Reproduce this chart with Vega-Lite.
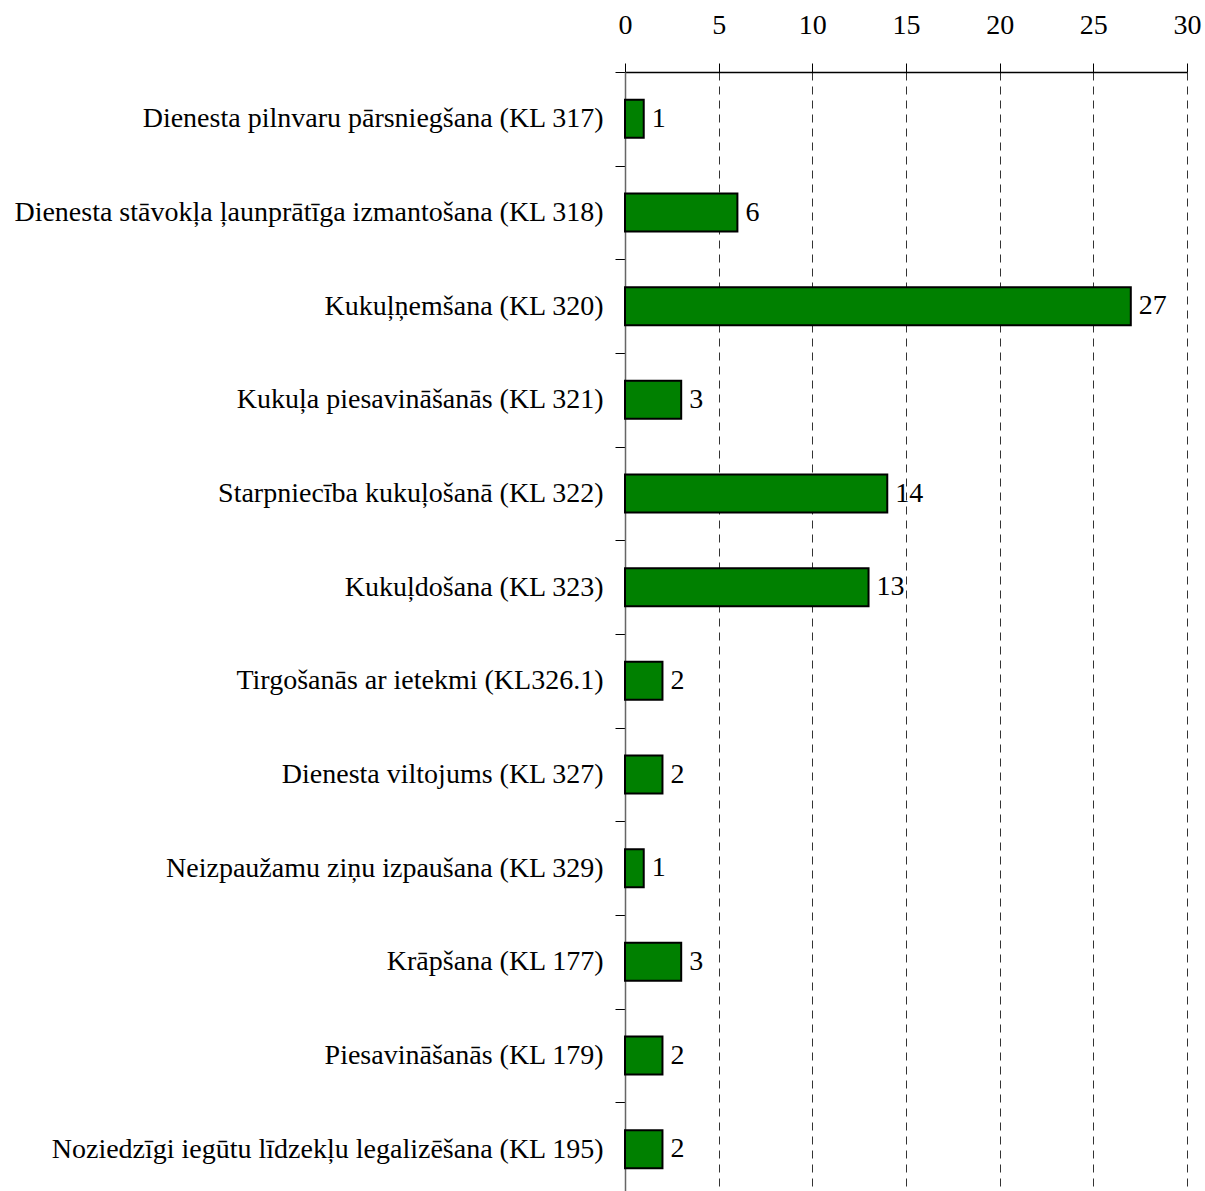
{
  "$schema": "https://vega.github.io/schema/vega-lite/v6.json",
  "width": 562,
  "height": 1124,
  "autosize": {"type": "none"},
  "padding": {"left": 625, "top": 72, "right": 18, "bottom": 0},
  "background": "white",
  "config": {"font": "Liberation Serif", "view": {"stroke": null}},
  "data": {
    "values": [
      {"category": "Dienesta pilnvaru pārsniegšana (KL 317)", "value": 1},
      {"category": "Dienesta stāvokļa ļaunprātīga izmantošana (KL 318)", "value": 6},
      {"category": "Kukuļņemšana (KL 320)", "value": 27},
      {"category": "Kukuļa piesavināšanās (KL 321)", "value": 3},
      {"category": "Starpniecība kukuļošanā (KL 322)", "value": 14},
      {"category": "Kukuļdošana (KL 323)", "value": 13},
      {"category": "Tirgošanās ar ietekmi (KL326.1)", "value": 2},
      {"category": "Dienesta viltojums (KL 327)", "value": 2},
      {"category": "Neizpaužamu ziņu izpaušana (KL 329)", "value": 1},
      {"category": "Krāpšana (KL 177)", "value": 3},
      {"category": "Piesavināšanās (KL 179)", "value": 2},
      {"category": "Noziedzīgi iegūtu līdzekļu legalizēšana (KL 195)", "value": 2}
    ]
  },
  "encoding": {
    "y": {
      "field": "category",
      "type": "nominal",
      "sort": null,
      "scale": {"paddingInner": 0, "paddingOuter": 0},
      "axis": {
        "title": null,
        "tickBand": "extent",
        "domainColor": "#666666",
        "domainWidth": 1.5,
        "tickColor": "#000000",
        "tickSize": 10,
        "labelFont": "Liberation Serif",
        "labelFontSize": 28,
        "labelColor": "#000000",
        "labelPadding": 12,
        "labelLimit": 0
      }
    }
  },
  "layer": [
    {
      "mark": {"type": "bar", "fill": "#008000", "stroke": "#000000", "strokeWidth": 2, "height": {"band": 0.406}},
      "encoding": {
        "x": {
          "field": "value",
          "type": "quantitative",
          "scale": {"domain": [0, 30], "nice": false},
          "axis": {
            "orient": "top",
            "title": null,
            "values": [0, 5, 10, 15, 20, 25, 30],
            "grid": true,
            "gridDash": [8, 6],
            "gridColor": "#333333",
            "gridWidth": 1,
            "domainColor": "#000000",
            "domainWidth": 1.5,
            "tickColor": "#000000",
            "tickSize": 9,
            "labelFont": "Liberation Serif",
            "labelFontSize": 28,
            "labelColor": "#000000",
            "labelPadding": 24,
            "labelFlush": false
          }
        }
      }
    },
    {
      "mark": {"type": "text", "align": "left", "baseline": "middle", "dx": 8, "fontSize": 28, "font": "Liberation Serif", "color": "#000000"},
      "encoding": {
        "x": {"field": "value", "type": "quantitative"},
        "text": {"field": "value", "type": "quantitative"}
      }
    }
  ]
}
